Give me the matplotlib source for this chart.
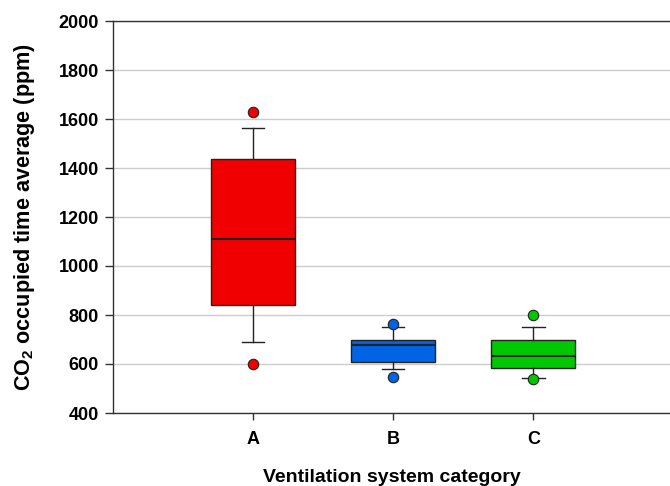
import matplotlib
matplotlib.use("Agg")
import matplotlib.pyplot as plt

categories = ["A", "B", "C"]
whislo = [690, 581, 543]
q1 = [840, 608, 585]
med = [1111, 676, 634]
q3 = [1437, 698, 698]
whishi = [1564, 752, 750]
fliers = [[1629, 600], [765, 547], [801, 539]]
colors = ["#f00000", "#0064e6", "#00c800"]

plt.rcParams['font.family'] = ['Liberation Sans', 'DejaVu Sans']
plt.rcParams['font.weight'] = 'bold'
plt.rcParams['mathtext.fontset'] = 'custom'
plt.rcParams['mathtext.rm'] = 'Liberation Sans:bold'
plt.rcParams['mathtext.bf'] = 'Liberation Sans:bold'
plt.rcParams['mathtext.it'] = 'Liberation Sans:bold'
plt.rcParams['mathtext.default'] = 'bf'

fig = plt.figure(figsize=(6.7, 4.86), dpi=100)
ax = fig.add_axes([113/670, 1 - 413/486, 1 - 113/670 + 0.002, (413 - 21)/486])

stats = []
for i, c in enumerate(categories):
    stats.append(dict(label=c, whislo=whislo[i], q1=q1[i], med=med[i], q3=q3[i],
                      whishi=whishi[i], fliers=fliers[i]))

positions = [1, 2, 3]
bp = ax.bxp(stats, positions=positions, widths=0.6, patch_artist=True,
            capwidths=0.16,
            boxprops=dict(linewidth=1.0, edgecolor='#222222'),
            medianprops=dict(color='#222222', linewidth=1.5),
            whiskerprops=dict(color='#222222', linewidth=1.0),
            capprops=dict(color='#222222', linewidth=1.0),
            flierprops=dict(marker='o', markersize=7.5, markeredgecolor='#222222',
                            markeredgewidth=0.8))
for patch, col in zip(bp['boxes'], colors):
    patch.set_facecolor(col)
for fl, col in zip(bp['fliers'], colors):
    fl.set_markerfacecolor(col)

ax.set_xlim(0, 3.985)
ax.set_ylim(400, 2000)
ax.set_yticks(range(400, 2001, 200))
ax.set_xticks(positions)
ax.set_xticklabels(categories)
ax.yaxis.grid(True, color='#cccccc', linewidth=1.0)
ax.set_axisbelow(True)
ax.spines['right'].set_visible(False)
for s in ['left', 'top', 'bottom']:
    ax.spines[s].set_color('#333333')
    ax.spines[s].set_linewidth(1.0)
ax.tick_params(axis='y', direction='out', length=6, width=1, color='#333333',
               labelsize=13, pad=4)
ax.tick_params(axis='x', direction='out', length=5, width=1, color='#333333',
               labelsize=13, pad=8)
for lab in ax.get_xticklabels() + ax.get_yticklabels():
    lab.set_fontweight('bold')

ax.set_ylabel(r"CO$_{2}$ occupied time average (ppm)", fontsize=15.6,
              fontweight='bold')
ax.yaxis.set_label_coords(-0.137, 0.5)
ax.set_xlabel("Ventilation system category", fontsize=14, fontweight='bold',
              labelpad=15)

fig.savefig("out.png", dpi=100)
